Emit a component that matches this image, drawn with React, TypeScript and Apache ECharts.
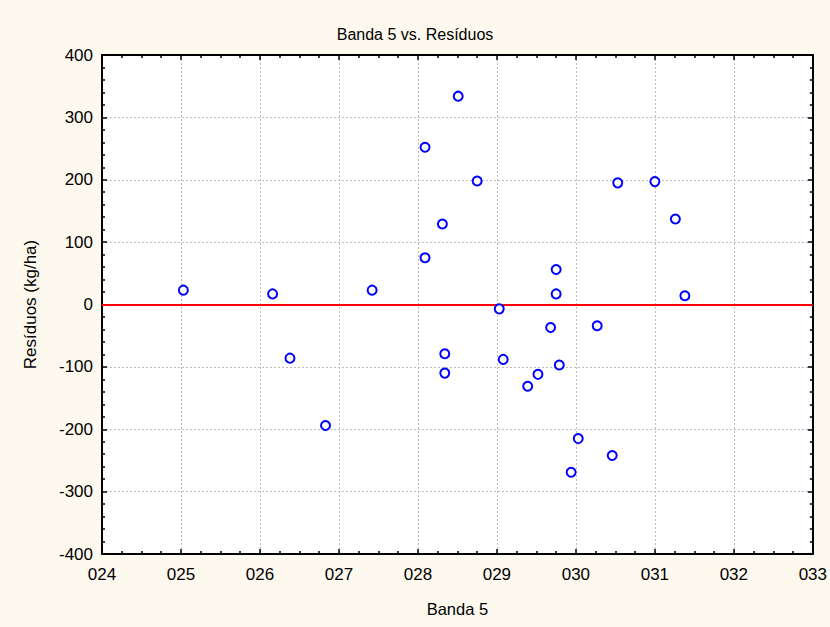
import React, { useEffect, useRef } from "react";
import * as echarts from "echarts";

const title = "Banda 5 vs. Resíduos";
const xName = "Banda 5";
const yName = "Resíduos (kg/ha)";
const banda5 = [25.03, 26.16, 26.38, 26.83, 27.42, 28.09, 28.09, 28.31, 28.34, 28.34, 28.51, 28.75, 29.03, 29.08, 29.39, 29.52, 29.68, 29.75, 29.75, 29.79, 29.94, 30.03, 30.27, 30.46, 30.53, 31.0, 31.26, 31.38];
const residuos = [23, 17, -86, -194, 23, 252, 75, 129, -79, -110, 334, 198, -7, -88, -131, -112, -37, 56, 17, -97, -269, -215, -34, -242, 195, 197, 137, 14];
const xMin = 24, xMax = 33, yMin = -400, yMax = 400;

export default function App() {
  const ref = useRef<HTMLDivElement>(null);
  useEffect(() => {
    const chart = echarts.init(ref.current!, null, { renderer: "svg" });
    const font = "Liberation Sans, Arial, sans-serif";
    const axisLine = { show: true, onZero: false, lineStyle: { color: "#000", width: 2 } };
    const split = { show: true, lineStyle: { color: "#bdbdbd", type: [2, 2], width: 1 } };
    const tick = { show: true, inside: true, length: 5, lineStyle: { color: "#000", width: 1.5 } };
    const minorTick = (n: number) => ({ show: true, splitNumber: n, length: 3, lineStyle: { color: "#000", width: 1.5 } });
    const data = banda5.map((x, i) => [x, residuos[i]]);
    chart.setOption({
      animation: false,
      backgroundColor: "#FEF9EE",
      textStyle: { fontFamily: font },
      title: {
        text: title, left: "center", top: 21,
        textStyle: { fontSize: 16, fontWeight: "normal", color: "#000", fontFamily: font },
      },
      grid: { left: 102, top: 55, width: 714, height: 499, show: true, backgroundColor: "#fff", borderWidth: 0 },
      xAxis: [
        {
          type: "value", min: xMin, max: xMax, interval: 1, position: "bottom",
          name: xName, nameLocation: "middle", nameGap: 46,
          nameTextStyle: { fontSize: 16.5, color: "#000", fontFamily: font },
          axisLine, axisTick: tick, minorTick: minorTick(4), splitLine: split,
          axisLabel: { fontSize: 17, color: "#000", margin: 12, fontFamily: font, formatter: (v: number) => String(v).padStart(3, "0") },
        },
        {
          type: "value", min: xMin, max: xMax, interval: 1, position: "top",
          axisLine, axisTick: tick, minorTick: minorTick(4), splitLine: { show: false }, axisLabel: { show: false },
        },
      ],
      yAxis: [
        {
          type: "value", min: yMin, max: yMax, interval: 100, position: "left",
          name: yName, nameLocation: "middle", nameGap: 63,
          nameTextStyle: { fontSize: 17, color: "#000", fontFamily: font },
          axisLine, axisTick: tick, minorTick: minorTick(5), splitLine: split,
          axisLabel: { fontSize: 17, color: "#000", margin: 9, fontFamily: font },
        },
        {
          type: "value", min: yMin, max: yMax, interval: 100, position: "right",
          axisLine, axisTick: tick, minorTick: minorTick(5), splitLine: { show: false }, axisLabel: { show: false },
        },
      ],
      series: [
        {
          type: "scatter", data, symbol: "emptyCircle", symbolSize: 9,
          itemStyle: { color: "#0000FF", borderColor: "#0000FF", borderWidth: 2, opacity: 1 },
          markLine: {
            silent: true, symbol: "none", label: { show: false },
            lineStyle: { color: "#FF0000", width: 2, type: "solid" },
            data: [{ yAxis: 0 }],
          },
          z: 5,
        },
      ],
    });
    return () => chart.dispose();
  }, []);
  return <div ref={ref} style={{ position: "fixed", left: 0, top: 0, width: 830, height: 627 }} />;
}
